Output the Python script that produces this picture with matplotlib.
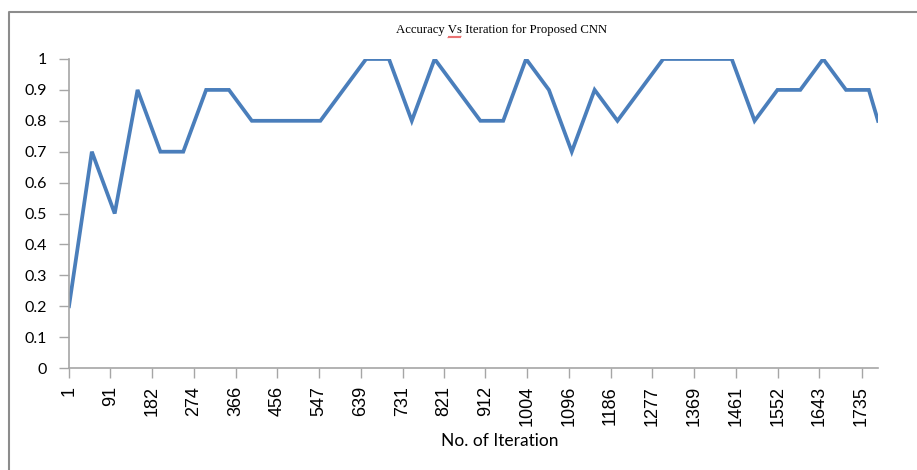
import numpy as np
import matplotlib
matplotlib.use("Agg")
import matplotlib.pyplot as plt
from matplotlib.lines import Line2D

# data
iterations = [1, 51, 101, 151, 201, 251, 301, 351, 401, 451, 501, 551,
              601, 651, 701, 751, 801, 851, 901, 951, 1001, 1051, 1101, 1151,
              1201, 1251, 1301, 1351, 1401, 1451, 1501, 1551, 1601, 1651, 1701,
              1751, 1771]
accuracy = [0.2, 0.7, 0.5, 0.9, 0.7, 0.7, 0.9, 0.9, 0.8, 0.8, 0.8, 0.8,
            0.9, 1.0, 1.0, 0.8, 1.0, 0.9, 0.8, 0.8, 1.0, 0.9, 0.7, 0.9,
            0.8, 0.9, 1.0, 1.0, 1.0, 1.0, 0.8, 0.9, 0.9, 1.0, 0.9,
            0.9, 0.8]
xtick_vals = [1, 91, 182, 274, 366, 456, 547, 639, 731, 821, 912, 1004,
              1096, 1186, 1277, 1369, 1461, 1552, 1643, 1735]
ytick_vals = [0, 0.1, 0.2, 0.3, 0.4, 0.5, 0.6, 0.7, 0.8, 0.9, 1]
ytick_labels = ["0", "0.1", "0.2", "0.3", "0.4", "0.5", "0.6", "0.7", "0.8", "0.9", "1"]

W, H = 917, 470
fig = plt.figure(figsize=(W / 100, H / 100), dpi=100)
ax = fig.add_axes([69 / W, 1 - 368 / H, (878 - 69) / W, (368 - 59) / H])

ax.plot(iterations, accuracy, color="#4a7ebb", lw=2.7, solid_joinstyle="miter")
ax.set_xlim(1, 1771)
ax.set_ylim(0, 1)

grey = "#a6a6a6"
for s in ["top", "right"]:
    ax.spines[s].set_visible(False)
for s in ["left", "bottom"]:
    ax.spines[s].set_color(grey)
    ax.spines[s].set_linewidth(1.2)

ax.set_yticks(ytick_vals)
ax.set_yticklabels(ytick_labels, fontfamily="Lato", fontsize=11.5)
ax.set_xticks(xtick_vals)
ax.set_xticklabels([str(v) for v in xtick_vals], rotation=90,
                   fontfamily="Liberation Sans", fontsize=13, va="top")
ax.tick_params(axis="y", length=7, width=1, color=grey, pad=9)
ax.tick_params(axis="x", length=7, width=1, color=grey, pad=6)

fig.text(500 / W, 1 - 441 / H, "No. of Iteration", ha="center", va="center",
         fontfamily="Lato", fontsize=12.5)
fig.text(502 / W, 1 - 30 / H, "Accuracy Vs Iteration for Proposed CNN",
         ha="center", va="center", fontfamily="Liberation Serif", fontsize=9.2)

# red spell-check squiggle under "Vs"
sx = np.linspace(448, 461, 14)
sy = 37 + 0.8 * np.where(np.arange(14) % 2 == 0, 1, -1)
fig.add_artist(Line2D(sx / W, 1 - sy / H, color="#e03030", lw=0.6))

# outer frame of the chart area
fig.add_artist(Line2D([9 / W, 9 / W, 1], [0, 1 - 12 / H, 1 - 12 / H],
                      color="#8c8c8c", lw=1.5))

fig.savefig("out.png", dpi=100)
